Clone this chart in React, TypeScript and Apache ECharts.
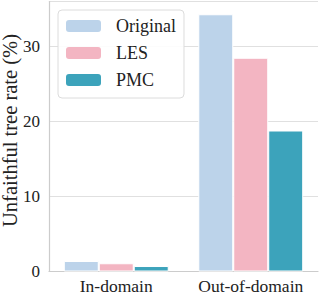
import React, { useEffect, useRef } from "react";
import * as echarts from "echarts";

const categories = ["In-domain", "Out-of-domain"];
const seriesNames = ["Original", "LES", "PMC"];
const originalValues = [1.4, 34.3];
const lesValues = [1.1, 28.5];
const pmcValues = [0.73, 18.8];
const colors = ["#bcd3ea", "#f3b5c2", "#3ca3bb"];
const yTicks = [0, 10, 20, 30];

const FONT = "'Liberation Serif', 'Times New Roman', Times, serif";

export default function App() {
  const ref = useRef<HTMLDivElement>(null);
  useEffect(() => {
    if (!ref.current) return;
    const chart = echarts.init(ref.current, null, { renderer: "svg" });
    const values = [originalValues, lesValues, pmcValues];
    chart.setOption({
      animation: false,
      textStyle: { fontFamily: FONT },
      grid: {
        left: 49,
        right: 1,
        top: 1.5,
        bottom: 22.5,
        containLabel: false,
        outerBoundsMode: "none",
      },
      legend: {
        data: seriesNames,
        orient: "vertical",
        left: 58,
        top: 10,
        padding: [7, 8, 9, 8],
        itemGap: 9,
        itemWidth: 35,
        itemHeight: 12,
        borderColor: "#dcdcdc",
        borderWidth: 1,
        borderRadius: 4,
        backgroundColor: "rgba(255,255,255,0.9)",
        textStyle: { fontFamily: FONT, fontSize: 18, color: "#222", padding: [0, 0, 0, 10] },
        itemStyle: { borderWidth: 0 },
      },
      xAxis: {
        type: "category",
        data: categories,
        axisLine: { lineStyle: { color: "#cccccc", width: 1.2 } },
        axisTick: { show: false },
        axisLabel: { fontFamily: FONT, fontSize: 17.5, color: "#222", margin: 5, interval: 0 },
      },
      yAxis: {
        type: "value",
        min: 0,
        max: 36,
        interval: 10,
        name: "Unfaithful tree rate (%)",
        nameLocation: "middle",
        nameGap: 29,
        nameMoveOverlap: false,
        nameTextStyle: { fontFamily: FONT, fontSize: 20.5, color: "#222", padding: [0, 0, 0, 12] },
        axisLine: { show: true, lineStyle: { color: "#cccccc", width: 1.2 } },
        axisTick: { show: false },
        axisLabel: {
          fontFamily: FONT,
          fontSize: 17,
          color: "#222",
          margin: 9,
          formatter: (v: number) => (yTicks.includes(v) ? String(v) : ""),
        },
        splitLine: { lineStyle: { color: "#e0e0e0", width: 1 } },
      },
      series: seriesNames.map((name, i) => ({
        name,
        type: "bar",
        data: values[i],
        barWidth: "26%",
        barGap: "0%",
        barCategoryGap: "22%",
        itemStyle: { color: colors[i], borderColor: "#ffffff", borderWidth: 1 },
      })),
    });
    return () => chart.dispose();
  }, []);
  return (
    <div
      ref={ref}
      style={{ position: "fixed", left: 0, top: 0, width: 319, height: 294, background: "#fff" }}
    />
  );
}
